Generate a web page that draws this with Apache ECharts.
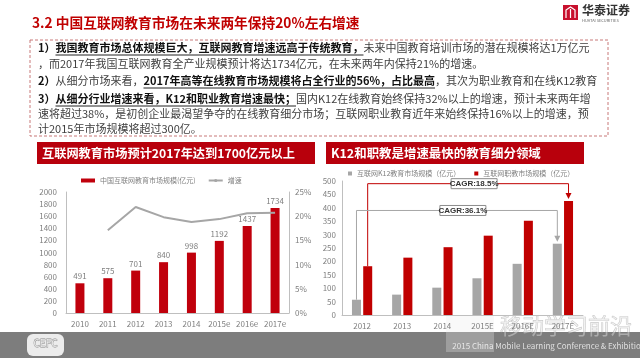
<!DOCTYPE html>
<html><head><meta charset="utf-8">
<script src="https://cdn.jsdelivr.net/npm/echarts@6/dist/echarts.min.js"></script>
<style>html,body{margin:0;padding:0;background:#fff;}#c{width:640px;height:358px;}</style>
</head><body><div id="c"></div>
<script>
// ---------- data ----------
const yearsA = ['2010','2011','2012','2013','2014','2015e','2016e','2017e'];
const marketSize = [491,575,701,840,998,1192,1437,1734];
const growth = [null,17.1,21.9,19.8,18.8,19.4,20.6,20.7];
const yearsB = ['2012','2013','2014','2015E','2016E','2017E'];
const k12 = [57,76,102,137,191,266];
const vocational = [182,214,253,296,352,425];
const cagrLabels = ['CAGR:18.5%','CAGR:36.1%'];
const cagrLevels = [490,390];

const nameA1 = '中国互联网教育市场规模(亿元)';
const nameA2 = '增速';
const nameB1 = '互联网K12教育市场规模（亿元）';
const nameB2 = '互联网职教市场规模（亿元）';

const title = '3.2 中国互联网教育市场在未来两年保持20%左右增速';
const bannerA = '互联网教育市场预计2017年达到1700亿元以上';
const bannerB = 'K12和职教是增速最快的教育细分领域';
const bodyLines = [
 [['1）','b'],['我国教育市场总体规模巨大，互联网教育增速远高于传统教育，','bu'],['未来中国教育培训市场的潜在规模将达1万亿元','n']],
 [['，而2017年我国互联网教育全产业规模预计将达1734亿元，在未来两年内保持21%的增速。','n']],
 [['2）','b'],['从细分市场来看，','n'],['2017年高等在线教育市场规模将占全行业的56%，占比最高','bu'],['，其次为职业教育和在线K12教育','n']],
 [['3）','b'],['从细分行业增速来看，K12和职业教育增速最快；','bu'],['国内K12在线教育始终保持32%以上的增速，预计未来两年增','n']],
 [['速将超过38%，是初创企业最渴望争夺的在线教育细分市场；互联网职业教育近年来始终保持16%以上的增速，预','n']],
 [['计2015年市场规模将超过300亿。','n']]
];

// ---------- style ----------
const FONT = '"Noto Sans CJK SC", "Noto Sans", sans-serif';
const RED = '#c00000';
const axisGray = '#bfbfbf';
const labelGray = '#7f7f7f';

const chart = echarts.init(document.getElementById('c'));

const ctx = document.createElement('canvas').getContext('2d');
function tw(t, bold, size){ ctx.font = (bold ? 'bold ' : '') + size + 'px ' + FONT; return ctx.measureText(t).width; }
function fitSize(t, bold, target){ return Math.min(20, 13 * target / tw(t, bold, 13)); }

const graphics = [];
// title
graphics.push({type:'text', x:32, y:23, style:{text:title, fontSize:fitSize(title, true, 328), fontWeight:'bold', fontFamily:FONT, fill:RED, verticalAlign:'middle'}});
// logo top-right
graphics.push({type:'rect', shape:{x:563,y:5,width:15,height:15}, style:{fill:'#c8102e'}});
graphics.push({type:'polyline', shape:{points:[[566,18],[566,10],[570.5,7],[575,10],[575,18]]}, style:{stroke:'#fff', lineWidth:1.2, fill:null}});
graphics.push({type:'line', shape:{x1:570.5,y1:9,x2:570.5,y2:18}, style:{stroke:'#fff', lineWidth:1.2}});
graphics.push({type:'text', x:582, y:10, style:{text:'华泰证券', fontSize:12, fontWeight:'bold', fontFamily:FONT, fill:'#333', verticalAlign:'middle'}});
graphics.push({type:'text', x:582, y:20, style:{text:'HUATAI SECURITIES', fontSize:4, fontFamily:FONT, fill:'#666', verticalAlign:'middle'}});
// dashed box
graphics.push({type:'rect', shape:{x:30,y:40,width:578,height:96}, style:{fill:null, stroke:'#c87878', lineWidth:1, lineDash:[3,2]}});
// body text
const lineY = [48,64,81,99,114,129];
bodyLines.forEach((segs, li) => {
  let x = 38;
  segs.forEach(([t, s]) => {
    const bold = s.indexOf('b') >= 0;
    const w = tw(t, bold, 11);
    graphics.push({type:'text', x:x, y:lineY[li], style:{text:t, fontSize:11, fontWeight:bold?'bold':'normal', fontFamily:FONT, fill:bold?'#111':'#404040', verticalAlign:'middle'}});
    if (s.indexOf('u') >= 0) {
      graphics.push({type:'line', shape:{x1:x, y1:lineY[li]+7, x2:x+w, y2:lineY[li]+7}, style:{stroke:'#222', lineWidth:1}});
    }
    x += w;
  });
});
// banners
graphics.push({type:'rect', shape:{x:37,y:142,width:278,height:22}, style:{fill:'#b8000c'}});
graphics.push({type:'text', x:42, y:153, style:{text:bannerA, fontSize:fitSize(bannerA, true, 253), fontWeight:'bold', fontFamily:FONT, fill:'#fff', verticalAlign:'middle'}});
graphics.push({type:'rect', shape:{x:326,y:142,width:258,height:22}, style:{fill:'#b8000c'}});
graphics.push({type:'text', x:331, y:153, style:{text:bannerB, fontSize:fitSize(bannerB, true, 210), fontWeight:'bold', fontFamily:FONT, fill:'#fff', verticalAlign:'middle'}});
// footer
graphics.push({type:'rect', shape:{x:0,y:332,width:640,height:26}, style:{fill:'#7d7d7d'}, z:-1});
graphics.push({type:'rect', shape:{x:27,y:334,width:37,height:22,r:6}, style:{fill:'#ececec'}});
graphics.push({type:'text', x:45.5, y:343, style:{text:'CEFC', fontSize:10, fontFamily:FONT, fill:'#ececec', stroke:'#8a8a8a', lineWidth:0.8, align:'center', verticalAlign:'middle'}});
// watermark
graphics.push({type:'rect', shape:{x:446,y:316,width:48,height:36}, style:{fill:'rgba(235,235,235,0.3)'}});
graphics.push({type:'text', x:566, y:326, style:{text:'移动学习前沿', fontSize:22, fontFamily:FONT, fill:'rgba(230,230,230,0.45)', stroke:'rgba(120,120,120,0.45)', lineWidth:0.6, align:'center', verticalAlign:'middle'}});
graphics.push({type:'text', x:549, y:346, style:{text:'2015 China Mobile Learning Conference & Exhibition', fontSize:8, fontFamily:FONT, fill:'rgba(255,255,255,0.75)', align:'center', verticalAlign:'middle'}});

function renderBracket(params, api) {
  const i = params.dataIndex;
  const vals = i === 0 ? vocational : k12;
  const off = i === 0 ? 5.6 : -5.6;
  const color = i === 0 ? RED : '#a6a6a6';
  const n = vals.length - 1;
  const p0 = api.coord([0, vals[0]]);
  const p1 = api.coord([n, vals[n]]);
  const lvl = api.coord([0, cagrLevels[i]])[1];
  const x0 = p0[0] + off, x1 = p1[0] + off;
  const yEnd = p1[1] - 2;
  const mx = (x0 + x1) / 2 + 6;
  return {type:'group', children:[
    {type:'polyline', shape:{points:[[x0,p0[1]],[x0,lvl],[x1,lvl],[x1,yEnd-5]]}, style:{stroke:color, lineWidth:1, fill:null}},
    {type:'polygon', shape:{points:[[x1-3,yEnd-6],[x1+3,yEnd-6],[x1,yEnd]]}, style:{fill:color}},
    {type:'rect', shape:{x:mx-23, y:lvl-5, width:46, height:10}, style:{fill:'#fff', stroke:'#8c8c8c', lineWidth:1}},
    {type:'text', x:mx, y:lvl, style:{text:cagrLabels[i], fontSize:8, fontWeight:'bold', fontFamily:'"Liberation Sans", Arial, sans-serif', fill:'#333', align:'center', verticalAlign:'middle'}}
  ]};
}

const axCommon = {axisLine:{show:true, lineStyle:{color:axisGray}}, axisTick:{show:false}, splitLine:{show:false}};
const lblCommon = {color:labelGray, fontSize:8, fontFamily:FONT};
const plain = v => String(v);

chart.setOption({
  animation:false,
  textStyle:{fontFamily:FONT},
  grid:[{left:66, top:192, width:223, height:121}, {left:342, top:181, width:241, height:134}],
  xAxis:[
    Object.assign({gridIndex:0, type:'category', data:yearsA, axisLabel:Object.assign({margin:7, interval:0}, lblCommon)}, axCommon),
    Object.assign({gridIndex:1, type:'category', data:yearsB, axisLabel:Object.assign({margin:7, interval:0}, lblCommon)}, axCommon)
  ],
  yAxis:[
    Object.assign({gridIndex:0, min:0, max:2000, interval:200, axisLabel:Object.assign({margin:9, formatter:plain}, lblCommon)}, axCommon),
    Object.assign({gridIndex:0, min:0, max:25, interval:5, position:'right', axisLabel:Object.assign({margin:6, formatter:'{value}%'}, lblCommon)}, axCommon),
    Object.assign({gridIndex:1, min:0, max:500, interval:50, axisLabel:Object.assign({margin:6, formatter:plain}, lblCommon)}, axCommon)
  ],
  legend:[
    {data:[{name:nameA1, icon:'rect'}, {name:nameA2}], left:76, top:172, itemWidth:14, itemHeight:4, itemGap:12,
     textStyle:{fontSize:7, color:'#808080', fontFamily:FONT}},
    {data:[nameB1, nameB2], left:343, top:165, icon:'rect', itemWidth:4, itemHeight:4, itemGap:14,
     textStyle:{fontSize:7, color:'#808080', fontFamily:FONT}}
  ],
  series:[
    {name:nameA1, type:'bar', xAxisIndex:0, yAxisIndex:0, data:marketSize, barWidth:9, itemStyle:{color:'#c0000c'},
     label:{show:true, position:'top', distance:3, fontSize:8, color:labelGray}},
    {name:nameA2, type:'line', xAxisIndex:0, yAxisIndex:1, data:growth, symbol:'none', lineStyle:{color:'#a6a6a6', width:2}, itemStyle:{color:'#a6a6a6'}},
    {name:nameB1, type:'bar', xAxisIndex:1, yAxisIndex:2, data:k12, barWidth:9, barGap:'25%', itemStyle:{color:'#a6a6a6'}},
    {name:nameB2, type:'bar', xAxisIndex:1, yAxisIndex:2, data:vocational, barWidth:9, barGap:'25%', itemStyle:{color:RED}},
    {type:'custom', xAxisIndex:1, yAxisIndex:2, data:cagrLevels.map(v => [0, v]), renderItem:renderBracket, clip:false, silent:true, z:10}
  ],
  graphic:{elements:graphics}
});
</script></body></html>
